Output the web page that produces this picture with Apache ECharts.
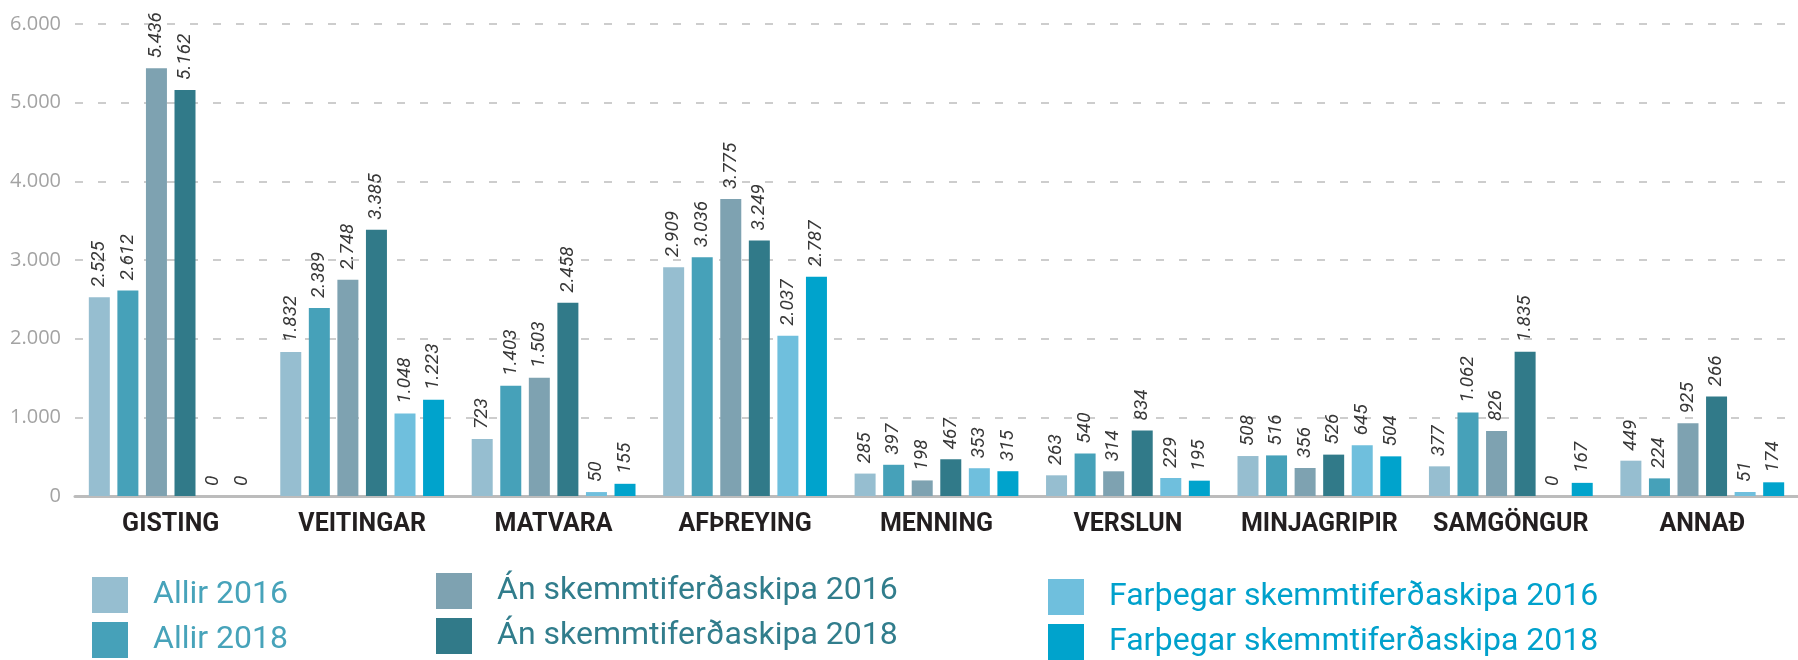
<!DOCTYPE html>
<html>
<head>
<meta charset="utf-8">
<script src="https://cdn.jsdelivr.net/npm/echarts@6/dist/echarts.min.js"></script>
<style>
html,body{margin:0;padding:0;background:#fff;}
#chart{width:1798px;height:660px;}
</style>
</head>
<body>
<div id="chart"></div>
<script>
const categories = ['GISTING','VEITINGAR','MATVARA','AFÞREYING','MENNING','VERSLUN','MINJAGRIPIR','SAMGÖNGUR','ANNAÐ'];
const seriesNames = ['Allir 2016','Allir 2018','Án skemmtiferðaskipa 2016','Án skemmtiferðaskipa 2018','Farþegar skemmtiferðaskipa 2016','Farþegar skemmtiferðaskipa 2018'];
const allir2016 = [2525, 1832, 723, 2909, 285, 263, 508, 377, 449];
const allir2018 = [2612, 2389, 1403, 3036, 397, 540, 516, 1062, 224];
const an2016 = [5436, 2748, 1503, 3775, 198, 314, 356, 826, 925];
const an2018 = [5162, 3385, 2458, 3249, 467, 834, 526, 1835, 1266];
const far2016 = [0, 1048, 50, 2037, 353, 229, 645, 0, 51];
const far2018 = [0, 1223, 155, 2787, 315, 195, 504, 167, 174];
const yTicks = [0, 1000, 2000, 3000, 4000, 5000, 6000];
// label text shown in the original where it differs from the value
const labelOverrides = {'Án skemmtiferðaskipa 2018|ANNAÐ': '266'};

const seriesData = [allir2016, allir2018, an2016, an2018, far2016, far2018];
const colors = ['#96bed0','#46a1b9','#7ea2b1','#317a89','#6fbfdd','#00a3cc'];
const legendTextColors = ['#47a3ba','#47a3ba','#317d8c','#317d8c','#00a1cc','#00a1cc'];

function fmt(v){
  return String(v).replace(/\B(?=(\d{3})+(?!\d))/g, '.');
}

const chart = echarts.init(document.getElementById('chart'), null, {renderer:'canvas'});

const series = seriesNames.map((name, i) => ({
  name: name,
  type: 'bar',
  data: seriesData[i],
  barWidth: 21,
  barGap: '36%',
  clip: false,
  itemStyle: {color: colors[i]},
  label: {
    show: true,
    position: 'top',
    rotate: 90,
    align: 'left',
    verticalAlign: 'middle',
    distance: 10,
    fontFamily: 'Roboto',
    fontStyle: 'italic',
    fontSize: 19,
    color: '#383838',
    formatter: p => {
      const key = p.seriesName + '|' + p.name;
      return labelOverrides[key] !== undefined ? labelOverrides[key] : fmt(p.value);
    }
  }
}));

function legendBlock(idx, left, top){
  return {
    orient: 'vertical',
    left: left,
    top: top,
    padding: 0,
    icon: 'rect',
    itemWidth: 36,
    itemHeight: 36,
    itemGap: 9,
    textStyle: {
      fontFamily: 'Roboto',
      fontSize: 32,
      padding: [0, 0, 0, 20]
    },
    data: [
      {name: seriesNames[idx], textStyle: {color: legendTextColors[idx]}},
      {name: seriesNames[idx+1], textStyle: {color: legendTextColors[idx+1]}}
    ]
  };
}

chart.setOption({
  animation: false,
  color: colors,
  grid: {left: 75, top: 24, width: 1747, height: 472, containLabel: false},
  legend: [legendBlock(0, 92, 577), legendBlock(2, 436, 573), legendBlock(4, 1048, 579)],
  xAxis: {
    type: 'category',
    data: categories,
    axisTick: {show: false},
    axisLine: {lineStyle: {color: '#bcbcbc', width: 3}},
    axisLabel: {
      interval: 0,
      margin: 16,
      fontFamily: 'Roboto',
      fontWeight: 'bold',
      fontSize: 25,
      color: '#231f20'
    }
  },
  yAxis: {
    type: 'value',
    min: yTicks[0],
    max: yTicks[yTicks.length-1],
    interval: yTicks[1] - yTicks[0],
    axisLine: {show: false},
    axisTick: {show: false},
    axisLabel: {
      margin: 14,
      fontFamily: '"Open Sans"',
      fontSize: 20,
      color: '#a3a3a3',
      formatter: v => fmt(v)
    },
    splitLine: {lineStyle: {color: '#cdcdcd', width: 2, type: [8, 15]}}
  },
  series: series
});
</script>
</body>
</html>
